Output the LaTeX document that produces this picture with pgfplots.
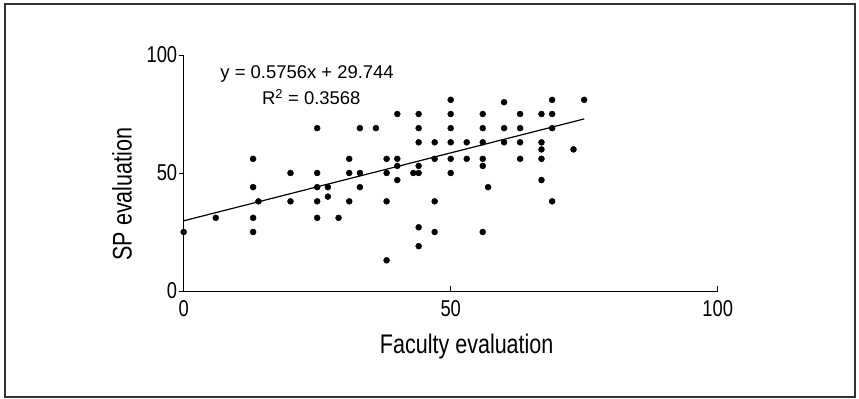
\documentclass[border=0pt]{standalone}
\usepackage{pgfplots}
\pgfplotsset{compat=1.18}
\usepackage{fontspec}
\setmainfont{Liberation Sans}
\newfontfamily\condensed{Liberation Sans}[FakeStretch=0.8]
\begin{document}
\begin{tikzpicture}
\path[use as bounding box] (-183.7bp,-108bp) rectangle (675.3bp,291bp);
\draw[line width=1.5bp, black!80] (-178.7bp,-106bp) rectangle (671.3bp,287bp);
\begin{axis}[
  at={(0,0)}, anchor=south west,
  scale only axis, width=534bp, height=236bp,
  xmin=0, xmax=100, ymin=0, ymax=100,
  axis lines=left, axis line style={-, line width=1bp},
  xtick={0,50,100}, ytick={0,50,100},
  tick align=inside, major tick length=5bp,
  tick style={line width=0.8bp, black},
  y tick style={xshift=-5bp},
  /pgf/number format/assume math mode=true,
  tick label style={font=\fontsize{23}{23}\selectfont\condensed},
  yticklabel style={xshift=-3bp},
  xticklabel style={yshift=-6bp},
  xlabel={Faculty evaluation}, ylabel={SP evaluation},
  label style={font=\fontsize{27}{27}\selectfont\condensed},
  xlabel style={at={(axis description cs:0.53,0)}, anchor=center, yshift=-56bp},
  ylabel style={at={(axis description cs:-0.1155,0.411)}, anchor=center},
  clip=false,
]
\addplot[only marks, mark=*, mark size=3bp, black] coordinates {
(0,25)(6,31)(13,56)(13,44)(13,31)(13,25)(14,38)(20,50)(20,38)(25,69)(25,50)(25,44)(25,38)(25,31)(27,44)(27,40)(29,31)(31,56)(31,50)(31,38)(33,69)(33,50)(33,44)(36,69)(38,56)(38,50)(38,38)(38,13)(40,75)(40,56)(40,53)(40,47)(43,50)(44,75)(44,69)(44,63)(44,53)(44,50)(44,27)(44,19)(47,63)(47,56)(47,38)(47,25)(50,81)(50,75)(50,69)(50,63)(50,56)(50,50)(53,63)(53,56)(56,75)(56,69)(56,63)(56,56)(56,53)(56,25)(57,44)(60,80)(60,69)(60,63)(63,75)(63,69)(63,63)(63,56)(67,75)(67,63)(67,60)(67,56)(67,47)(69,81)(69,75)(69,69)(69,38)(73,60)(75,81)
};
\addplot[black, line width=1.2bp] coordinates {(0,29.744) (75,72.914)};
\node[font=\fontsize{18.5}{18.5}\selectfont, align=center] at (axis cs:23.1,92) {y = 0.5756x + 29.744};
\node[font=\fontsize{18.5}{18.5}\selectfont, align=center] at (axis cs:23.9,82.2) {R\textsuperscript{2} = 0.3568};
\end{axis}
\end{tikzpicture}
\end{document}
